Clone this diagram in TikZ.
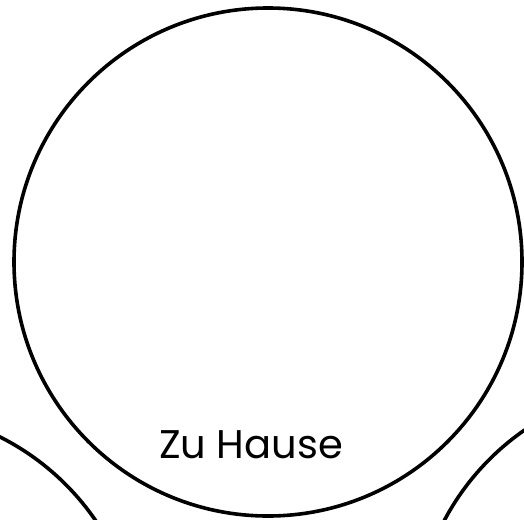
\documentclass[tikz,border=0pt]{standalone}
\usepackage{fontspec}
\newfontfamily\handfont{Poppins}
\tikzset{every picture/.style={line width=3.6pt}}

\begin{document}
\begin{tikzpicture}[x=1pt,y=1pt,yscale=-1,xscale=1]
	\useasboundingbox (0,0) rectangle (524,519);
	\clip (0,0) rectangle (524,519);
	
	%Shape: Circle [id:home]
	\node [draw, circle, line width=3.6pt, inner sep=0pt, minimum size=508] (home) at (268,262) {};
	%Shape: Circle [id:left]
	\node [draw, circle, line width=3.6pt, inner sep=0pt, minimum size=508] (leftring) at (-114,664) {};
	%Shape: Circle [id:right]
	\node [draw, circle, line width=3.6pt, inner sep=0pt, minimum size=508] (rightring) at (669,639) {};
	
	% Text Node
	\node [anchor=base, inner sep=0pt, font=\handfont\fontsize{40}{40}\selectfont] (homelabel) at (251,458) {Zu Hause};
	
\end{tikzpicture}
\end{document}
